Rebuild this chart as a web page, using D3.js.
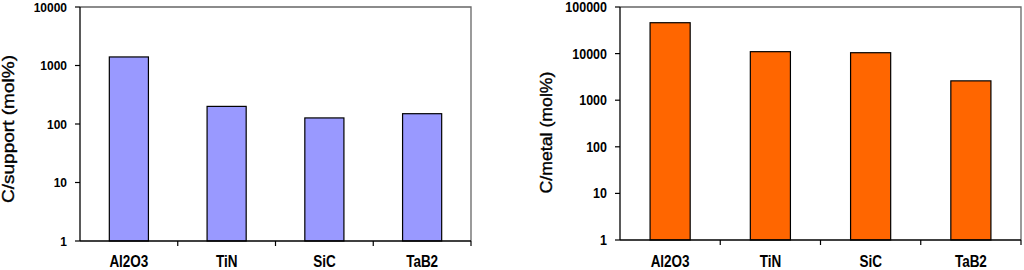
<!DOCTYPE html>
<html>
<head>
<meta charset="utf-8">
<script src="https://cdn.jsdelivr.net/npm/d3@7"></script>
<style>
html,body{margin:0;padding:0;background:#fff;}
svg{display:block;font-family:"Liberation Sans",Arial,sans-serif;}
</style>
</head>
<body>
<svg id="c" width="1024" height="270"></svg>
<script>
const categories = ["Al2O3", "TiN", "SiC", "TaB2"];
const supportValues = [1400, 200, 127, 150];
const metalValues = [46000, 11000, 10450, 2600];
const supportTicks = [1, 10, 100, 1000, 10000];
const metalTicks = [1, 10, 100, 1000, 10000, 100000];

const svg = d3.select("#c");

function drawChart(cfg) {
  const g = svg.append("g");
  const x = d3.scaleBand().domain(cfg.cats).range([cfg.left, cfg.right]).padding(0);
  const y = d3.scaleLog().domain([cfg.ticks[0], cfg.ticks[cfg.ticks.length - 1]]).range([cfg.bottom, cfg.top]);

  g.append("path")
    .attr("d", `M${cfg.left},${cfg.top}H${cfg.right}V${cfg.bottom}`)
    .attr("fill", "none").attr("stroke", "#666").attr("stroke-width", 1.3);

  const bw = x.bandwidth() * 0.4;
  g.selectAll("rect.bar").data(cfg.values).enter().append("rect")
    .attr("x", (d, i) => x(cfg.cats[i]) + (x.bandwidth() - bw) / 2)
    .attr("y", d => y(d))
    .attr("width", bw)
    .attr("height", d => y(cfg.ticks[0]) - y(d))
    .attr("fill", cfg.color)
    .attr("stroke", "#000").attr("stroke-width", 1.2);

  g.append("line").attr("x1", cfg.left).attr("x2", cfg.left)
    .attr("y1", cfg.top).attr("y2", cfg.bottom)
    .attr("stroke", "#000").attr("stroke-width", 1.3);
  g.selectAll("line.yt").data(cfg.ticks).enter().append("line")
    .attr("x1", cfg.left - 5).attr("x2", cfg.left)
    .attr("y1", d => y(d)).attr("y2", d => y(d))
    .attr("stroke", "#000").attr("stroke-width", 1.2);
  g.selectAll("text.yl").data(cfg.ticks).enter().append("text")
    .attr("transform", d => `translate(${cfg.left - 13},${y(d)}) scale(1,1.12)`)
    .attr("dy", "0.36em")
    .attr("text-anchor", "end").attr("font-size", cfg.tickFont).attr("font-weight", "bold")
    .attr("fill", "#000").text(d => d);

  g.append("line").attr("x1", cfg.left).attr("x2", cfg.right)
    .attr("y1", cfg.bottom).attr("y2", cfg.bottom)
    .attr("stroke", "#000").attr("stroke-width", 1.3);
  const bounds = cfg.cats.map(c => x(c)).concat([x(cfg.cats[cfg.cats.length - 1]) + x.bandwidth()]);
  g.selectAll("line.xt").data(bounds.slice(1)).enter().append("line")
    .attr("x1", d => d).attr("x2", d => d)
    .attr("y1", cfg.bottom).attr("y2", cfg.bottom + 5)
    .attr("stroke", "#000").attr("stroke-width", 1.2);
  g.selectAll("text.xl").data(cfg.cats).enter().append("text")
    .attr("transform", d => `translate(${x(d) + x.bandwidth() / 2},267) scale(1,1.25)`)
    .attr("text-anchor", "middle").attr("font-size", 13.5).attr("font-weight", "bold")
    .attr("fill", "#000").text(d => d);

  g.append("text")
    .attr("transform", `translate(${cfg.titleX},${cfg.titleY}) rotate(-90)`)
    .attr("text-anchor", "middle").attr("font-size", 16.5)
    .attr("textLength", cfg.titleLen).attr("lengthAdjust", "spacingAndGlyphs")
    .attr("stroke", "#000").attr("stroke-width", 0.35)
    .attr("fill", "#000").text(cfg.title);
}

drawChart({
  cats: categories, values: supportValues, ticks: supportTicks,
  left: 80, right: 471, top: 7, bottom: 241,
  color: "#9999FF", tickFont: 12,
  title: "C/support (mol%)", titleX: 14, titleY: 129, titleLen: 148
});
drawChart({
  cats: categories, values: metalValues, ticks: metalTicks,
  left: 620, right: 1021, top: 7, bottom: 240,
  color: "#FF6600", tickFont: 12.5,
  title: "C/metal (mol%)", titleX: 552, titleY: 132.5, titleLen: 122
});
</script>
</body>
</html>
